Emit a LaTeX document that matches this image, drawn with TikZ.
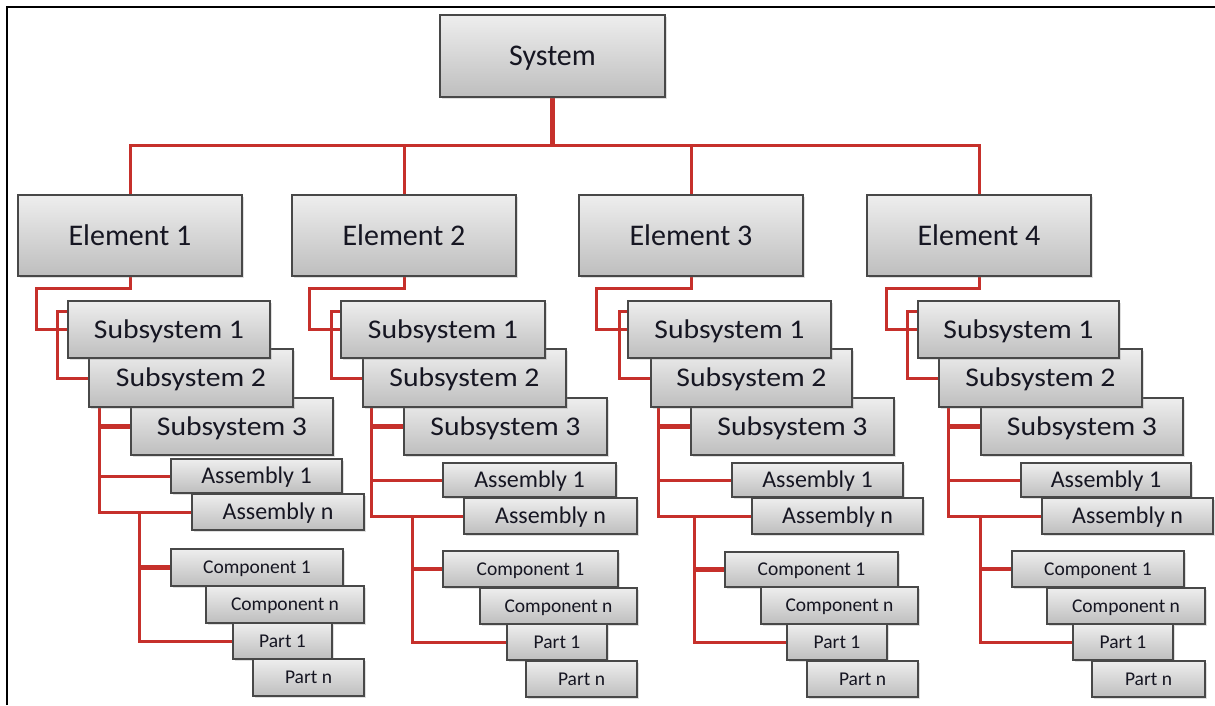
\documentclass[tikz,border=0pt]{standalone}
\usepackage{fontspec}
\setmainfont{Carlito}
\newfontfamily\widefont[FakeStretch=1.1]{Carlito}
\usetikzlibrary{calc,shadows}
\definecolor{linkred}{RGB}{198,48,43}
\definecolor{boxtop}{RGB}{238,238,238}
\definecolor{boxbot}{RGB}{190,190,190}
\definecolor{boxline}{RGB}{72,72,72}
\definecolor{ink}{RGB}{22,22,34}
\pgfdeclarelayer{paper}
\pgfdeclarelayer{links}
\pgfsetlayers{paper,links,main}
\tikzset{
  box/.style={draw=boxline, line width=1.3pt, top color=boxtop, bottom color=boxbot,
    inner sep=0pt, text=ink, text depth=0pt,
    drop shadow={opacity=0.25, shadow xshift=1.5pt, shadow yshift=-1.5pt}},
  big/.style={box, font=\fontsize{30}{36}\selectfont, text height=19.3pt},
  sub/.style={box, font=\widefont\fontsize{27}{32}\selectfont, text height=17.4pt},
  asm/.style={box, font=\fontsize{24}{29}\selectfont, text height=15.5pt},
  small/.style={box, font=\fontsize{19.5}{24}\selectfont, text height=12.6pt},
  link/.style={draw=linkred, line width=3pt},
  heavy/.style={link, line width=4.5pt},
}
% \bx{name}{x1}{y1}{x2}{y2}{text}{style}: a box given by its corners
\newcommand\bx[7]{\node[#7, minimum width={(#4)-(#2)}, minimum height={(#5)-(#3)}]
  (#1) at ({((#2)+(#4))/2},{((#3)+(#5))/2}) {#6};}
\begin{document}
\begin{tikzpicture}[x=1pt, y=-1pt]
\useasboundingbox (0,0) rectangle (1215,705);
\begin{pgfonlayer}{paper}
  \fill[white] (0,0) rectangle (1215,705);
  \draw[line width=2pt] (6.7,705) -- (6.7,6.7) -- (1215,6.7);
\end{pgfonlayer}

\bx{sys}{440}{15}{665}{97}{System}{big}

% column 1
\bx{e1}{18}{195}{242}{276}{Element 1}{big}
\bx{s3-1}{131}{398}{333}{455}{Subsystem 3}{sub}
\bx{s2-1}{89}{349}{293}{407}{Subsystem 2}{sub}
\bx{s1-1}{68}{301}{270}{358}{Subsystem 1}{sub}
\bx{a1-1}{171}{459}{342}{493}{Assembly 1}{asm}
\bx{an-1}{192}{494}{364}{530}{Assembly n}{asm}
\bx{c1-1}{171}{549}{343}{586}{Component 1}{small}
\bx{cn-1}{206}{586}{364}{623}{Component n}{small}
\bx{p1-1}{233}{623}{332}{659}{Part 1}{small}
\bx{pn-1}{253}{659}{364}{696}{Part n}{small}

% column 2
\bx{e2}{292}{195}{516}{276}{Element 2}{big}
\bx{s3-2}{404}{398}{607}{455}{Subsystem 3}{sub}
\bx{s2-2}{363}{349}{566}{407}{Subsystem 2}{sub}
\bx{s1-2}{341}{301}{545}{358}{Subsystem 1}{sub}
\bx{a1-2}{443}{463}{616}{497}{Assembly 1}{asm}
\bx{an-2}{464}{498}{637}{534}{Assembly n}{asm}
\bx{c1-2}{443}{551}{618}{587}{Component 1}{small}
\bx{cn-2}{480}{588}{637}{624}{Component n}{small}
\bx{p1-2}{507}{624}{607}{660}{Part 1}{small}
\bx{pn-2}{526}{661}{637}{697}{Part n}{small}

% column 3
\bx{e3}{579}{195}{803}{276}{Element 3}{big}
\bx{s3-3}{691}{398}{894}{455}{Subsystem 3}{sub}
\bx{s2-3}{651}{349}{852}{407}{Subsystem 2}{sub}
\bx{s1-3}{628}{301}{831}{358}{Subsystem 1}{sub}
\bx{a1-3}{732}{463}{903}{497}{Assembly 1}{asm}
\bx{an-3}{752}{498}{923}{534}{Assembly n}{asm}
\bx{c1-3}{725}{552}{898}{587}{Component 1}{small}
\bx{cn-3}{761}{587}{918}{624}{Component n}{small}
\bx{p1-3}{787}{624}{887}{660}{Part 1}{small}
\bx{pn-3}{807}{661}{918}{697}{Part n}{small}

% column 4
\bx{e4}{867}{195}{1091}{276}{Element 4}{big}
\bx{s3-4}{981}{398}{1183}{455}{Subsystem 3}{sub}
\bx{s2-4}{939}{349}{1142}{407}{Subsystem 2}{sub}
\bx{s1-4}{918}{301}{1119}{358}{Subsystem 1}{sub}
\bx{a1-4}{1021}{463}{1191}{497}{Assembly 1}{asm}
\bx{an-4}{1042}{498}{1213}{534}{Assembly n}{asm}
\bx{c1-4}{1012}{551}{1184}{587}{Component 1}{small}
\bx{cn-4}{1047}{588}{1205}{624}{Component n}{small}
\bx{p1-4}{1073}{624}{1173}{660}{Part 1}{small}
\bx{pn-4}{1092}{661}{1205}{697}{Part n}{small}

\begin{pgfonlayer}{links}
  \coordinate (bus) at ($(sys.south)+(0,48)$);
  \draw[link, line width=4.5pt] (sys.south) -- (bus);
  \foreach \c in {1,...,4} \draw[link] (bus) -| (e\c.north);
  \foreach \c/\t/\f in {1/11/-52, 2/9/-51, 3/8/-57, 4/10/-61}{
    \draw[link] (e\c.south) -- ++(0,12) -| ($(s1-\c.west)+(-31,0)$) -- (s1-\c.west);
    \draw[link] ($(s1-\c.north west)+(0,11)$) -| ($(s2-\c.west)+(-31,0)$) -- (s2-\c.west);
    \coordinate (v\c) at ($(s2-\c.south west)+(\t,0)$);
    \coordinate (w\c) at ($(an-\c.west)+(\f,0)$);
    \draw[link] (v\c) |- (an-\c.west);
    \draw[link] (v\c |- a1-\c.west) -- (a1-\c.west);
    \draw[heavy] (v\c |- s3-\c.west) -- (s3-\c.west);
    \draw[link] (w\c) |- (p1-\c.west);
    \draw[heavy] (w\c |- c1-\c.west) -- (c1-\c.west);
  }
\end{pgfonlayer}
\end{tikzpicture}
\end{document}
